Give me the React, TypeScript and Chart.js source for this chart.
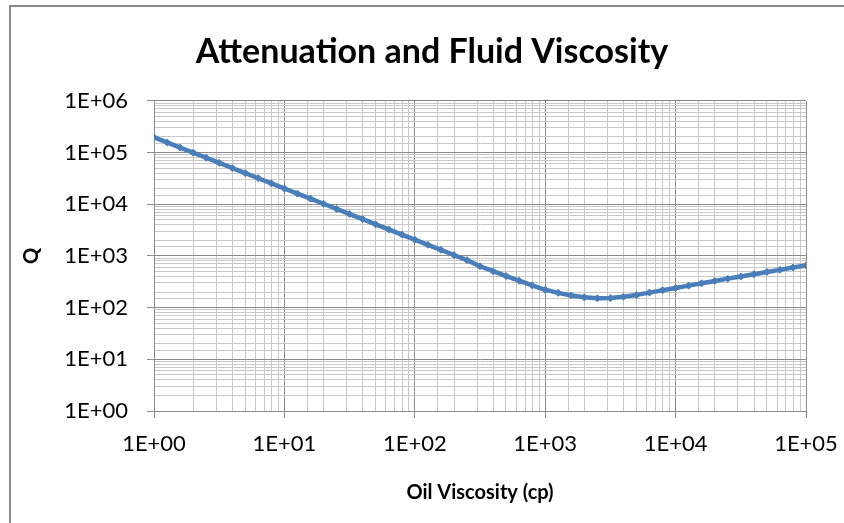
import React, { useEffect, useRef } from "react";
import { Chart, registerables } from "chart.js";

Chart.register(...registerables);

const titleText = "Attenuation and Fluid Viscosity";
const xTitle = "Oil Viscosity (cp)";
const yTitle = "Q";

// Oil viscosity (cp), 10 points per decade
const viscosity = [
  1, 1.259, 1.585, 1.995, 2.512, 3.162, 3.981, 5.012, 6.31, 7.943,
  10, 12.59, 15.85, 19.95, 25.12, 31.62, 39.81, 50.12, 63.1, 79.43,
  100, 125.9, 158.5, 199.5, 251.2, 316.2, 398.1, 501.2, 631, 794.3,
  1000, 1259, 1585, 1995, 2512, 3162, 3981, 5012, 6310, 7943,
  10000, 12589, 15849, 19953, 25119, 31623, 39811, 50119, 63096, 79433,
  100000,
];

// Quality factor Q
const qValues = [
  196800, 156700, 124700, 99300, 79100, 63000, 50100, 39900, 31800, 25300,
  20100, 16000, 12800, 10200, 8090, 6440, 5130, 4080, 3250, 2590,
  2060, 1640, 1310, 1040, 828, 631, 507, 407, 331, 269,
  221, 193, 172, 158, 151, 153, 162, 176, 195, 216,
  240, 266, 295, 327, 363, 398, 442, 490, 537, 596,
  653,
];

const FONT = "Lato, 'Open Sans', sans-serif";
const MAJOR_GRID = "#8c8c8c";
const MINOR_GRID = "#c8c8c8";
const LINE_COLOR = "#4a7ebb";

function isMajor(v: number) {
  const l = Math.log10(v);
  return Math.abs(l - Math.round(l)) < 1e-9;
}

function fmt(v: number) {
  const e = Math.round(Math.log10(v));
  return "1E" + (e < 0 ? "-" : "+") + String(Math.abs(e)).padStart(2, "0");
}

export default function App() {
  const ref = useRef<HTMLCanvasElement | null>(null);

  useEffect(() => {
    document.body.style.margin = "0";
    document.body.style.overflow = "hidden";
    const canvas = ref.current;
    if (!canvas) return;
    const gridColor = (ctx: any) =>
      ctx.tick && isMajor(ctx.tick.value) ? MAJOR_GRID : MINOR_GRID;
    const tickColor = (ctx: any) =>
      ctx.tick && isMajor(ctx.tick.value) ? MAJOR_GRID : "rgba(0,0,0,0)";
    const chart = new Chart(canvas, {
      type: "line",
      data: {
        datasets: [
          {
            data: viscosity.map((x, i) => ({ x, y: qValues[i] })),
            borderColor: LINE_COLOR,
            backgroundColor: LINE_COLOR,
            borderWidth: 4.5,
            borderJoinStyle: "round",
            borderCapStyle: "round",
            pointStyle: "rectRot",
            pointRadius: 3.5,
            pointBorderWidth: 1,
            tension: 0,
          },
        ],
      },
      options: {
        animation: false,
        responsive: false,
        layout: { padding: { left: 58, right: 38, top: 0, bottom: 0 } },
        plugins: {
          legend: { display: false },
          tooltip: { enabled: false },
          title: {
            display: true,
            text: titleText,
            color: "#000",
            font: { family: FONT, size: 34, weight: "bold", lineHeight: 1.2 },
            padding: { top: 32, bottom: 28 },
          },
        },
        scales: {
          x: {
            type: "logarithmic",
            min: 1,
            max: 100000,
            afterFit: (s: any) => {
              s.height = 112;
              s.paddingLeft = 0;
              s.paddingRight = 0;
            },
            grid: { color: gridColor, tickColor, tickLength: 7, lineWidth: 1 },
            border: { color: MAJOR_GRID, width: 1 },
            ticks: {
              autoSkip: false,
              maxRotation: 0,
              minRotation: 0,
              padding: 13,
              color: "#000",
              font: { family: FONT, size: 22 },
              callback: (v: any) => (isMajor(Number(v)) ? fmt(Number(v)) : ""),
            },
            title: {
              display: true,
              text: xTitle,
              color: "#000",
              font: { family: FONT, size: 20, weight: "bold", lineHeight: 1.2 },
              padding: { top: 0, bottom: 18 },
            },
          },
          y: {
            type: "logarithmic",
            min: 1,
            max: 1000000,
            afterFit: (s: any) => {
              s.width = 96;
            },
            grid: { color: gridColor, tickColor, tickLength: 7, lineWidth: 1 },
            border: { color: MAJOR_GRID, width: 1 },
            ticks: {
              autoSkip: false,
              padding: 19,
              color: "#000",
              font: { family: FONT, size: 22 },
              callback: (v: any) => (isMajor(Number(v)) ? fmt(Number(v)) : ""),
            },
            title: {
              display: true,
              text: yTitle,
              color: "#000",
              font: { family: FONT, size: 20, weight: "bold", lineHeight: 1.2 },
              padding: { top: -38, bottom: 0 },
            },
          },
        },
      },
    } as any);
    return () => chart.destroy();
  }, []);

  return (
    <div
      style={{
        position: "relative",
        width: 844,
        height: 523,
        overflow: "hidden",
        background: "#fff",
      }}
    >
      <canvas ref={ref} width={844} height={523} style={{ display: "block" }} />
      <div
        style={{
          position: "absolute",
          left: 9,
          top: 5,
          width: 900,
          height: 600,
          borderLeft: "2px solid #8a8a8a",
          borderTop: "2px solid #8a8a8a",
          pointerEvents: "none",
        }}
      />
    </div>
  );
}
